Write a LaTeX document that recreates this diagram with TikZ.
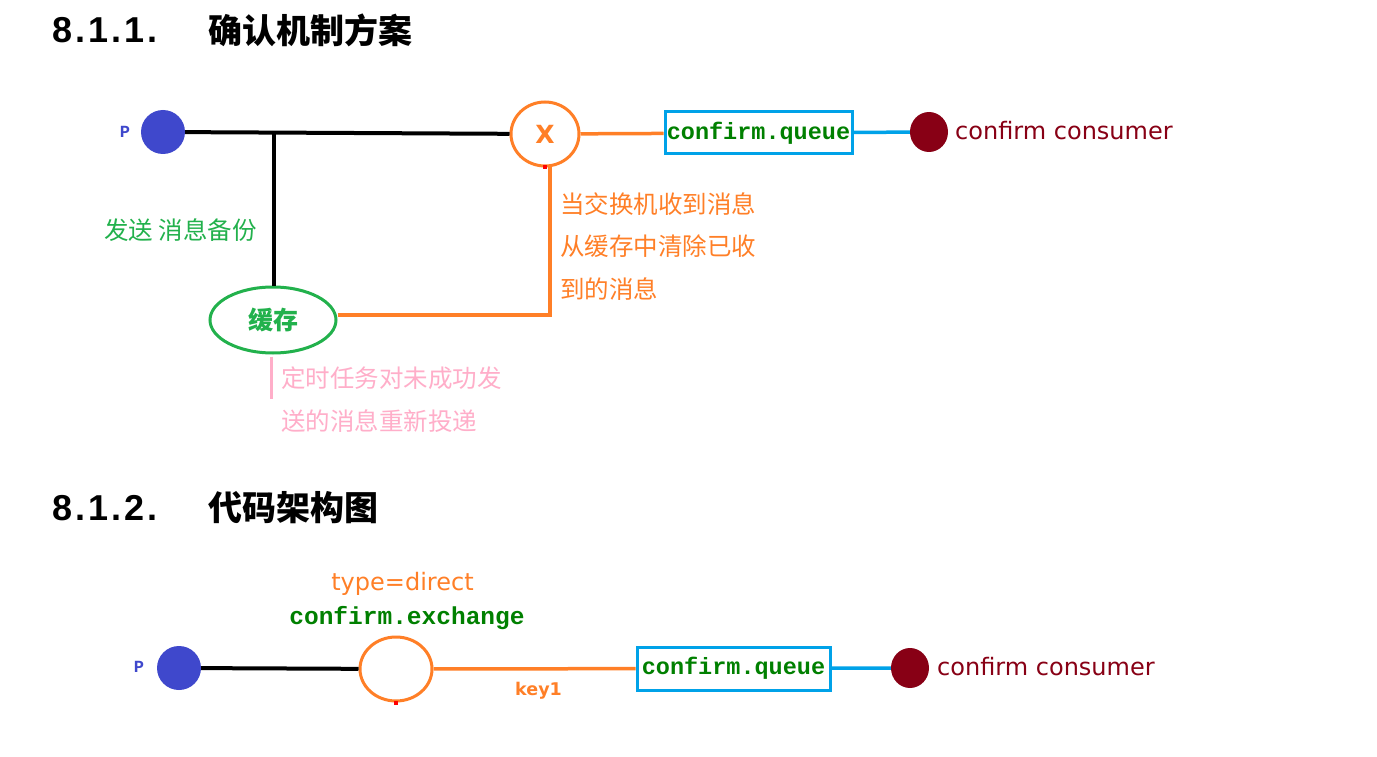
\documentclass[tikz,border=0pt]{standalone}
\usepackage{fontspec}
\setmainfont{DejaVu Sans}
\newfontfamily\cjk{Noto Sans CJK SC}
\newfontfamily\monof{Liberation Mono}
\newfontfamily\numf{Liberation Sans}
\usetikzlibrary{shapes.geometric}
\definecolor{pblue}{HTML}{3F48CC}
\definecolor{dred}{HTML}{880015}
\definecolor{orng}{HTML}{FF7F27}
\definecolor{lgreen}{HTML}{22B14C}
\definecolor{qgreen}{HTML}{008000}
\definecolor{cyanb}{HTML}{00A2E8}
\definecolor{pinkc}{HTML}{FFAEC9}
\frenchspacing
\newcommand\hdc[1]{\makebox[18pt][c]{#1}}
\begin{document}
\begin{tikzpicture}[x=1pt,y=-1pt,
  headnum/.style={anchor=west, inner sep=0, font=\numf\bfseries\fontsize{36}{38}\selectfont},
  heading/.style={anchor=west, inner sep=0, font=\cjk\bfseries\fontsize{34}{36}\selectfont},
  plabel/.style={inner sep=0, text=pblue, font=\monof\bfseries\fontsize{17}{18}\selectfont},
  pnode/.style={circle, fill=pblue, minimum size=44pt, inner sep=0},
  cnode/.style={ellipse, fill=dred, minimum width=38pt, minimum height=40pt, inner sep=0},
  ctext/.style={anchor=west, inner sep=0, text=dred, font=\fontsize{24}{28}\selectfont},
  exch/.style={ellipse, draw=orng, line width=3pt, inner sep=0, minimum height=64pt},
  qbox/.style={draw=cyanb, line width=3pt, inner sep=0, minimum height=42pt, text=qgreen,
     font=\monof\bfseries\fontsize{23.5}{26}\selectfont},
  blk/.style={line width=4pt, black},
  orl/.style={line width=3.5pt, orng},
  cyl/.style={line width=3.5pt, cyanb},
  rdot/.style={fill=red, minimum size=4pt, inner sep=0},
  cjkt/.style={inner sep=0, font=\cjk\fontsize{24.5}{42.5}\selectfont}
]
\useasboundingbox[fill=white] (0,0) rectangle (1377,757);

% ---------- 8.1.1 ----------
\node[headnum] (h1n) at (53,30) {\hdc{8}\hdc{.}\hdc{1}\hdc{.}\hdc{1}\hdc{.}};
\node[heading] (h1t) at (208,30) {确认机制方案};

\node[plabel] (pl1) at (125,132) {P};
\node[pnode] (p1) at (163,132) {};
\node[exch, minimum width=68pt, text=orng, font=\bfseries\fontsize{25}{26}\selectfont] (x1) at (545,134) {X};
\node[qbox, minimum width=187pt] (q1) at (758.5,133) {confirm.queue};
\node[cnode] (c1) at (929,132) {};
\node[ctext] (ct1) at (955,131) {confirm consumer};

\node[ellipse, draw=lgreen, line width=3pt, minimum width=126pt, minimum height=66pt, inner sep=0,
      text=lgreen, font=\cjk\bfseries\fontsize{25}{26}\selectfont] (cache) at (273,320) {缓存};

\coordinate (j1) at (274,133);
\coordinate (corner) at (550,315);

\draw[blk] (p1) -- (x1);
\draw[blk] (j1) -- (j1 |- cache.north);
\draw[orl] (x1) -- (q1);
\draw[cyl] (q1) -- (c1);
\draw[orl] ([yshift=5pt]cache.east) -- (corner) -- (corner |- x1.south);
\node[rdot] (d1) at (x1.south) {};
\draw[line width=3pt, pinkc] ([shift={(-2,2)}]cache.south) -- ++(0,42);

\node[cjkt, anchor=west, text=lgreen] (send) at (104,230) {发送 消息备份};
\node[cjkt, anchor=west, align=left, text=orng] (note1) at (560,246.5)
  {当交换机收到消息\\从缓存中清除已收\\到的消息};
\node[cjkt, anchor=west, align=left, text=pinkc] (note2) at (281,399.5)
  {定时任务对未成功发\\送的消息重新投递};

% ---------- 8.1.2 ----------
\node[headnum] (h2n) at (53,508) {\hdc{8}\hdc{.}\hdc{1}\hdc{.}\hdc{2}\hdc{.}};
\node[heading] (h2t) at (208,508) {代码架构图};

\node[plabel] (pl2) at (139,667) {P};
\node[pnode] (p2) at (179,668) {};
\node[exch, minimum width=72pt] (x2) at (396,669) {};
\node[qbox, minimum width=193pt, minimum height=43pt] (q2) at (733.5,668.5) {confirm.queue};
\node[cnode] (c2) at (910,668) {};
\node[ctext] (ct2) at (937,667) {confirm consumer};

\node[inner sep=0, text=orng, font=\fontsize{24}{28}\selectfont] (typ) at (402.5,584) {type=direct};
\node[inner sep=0, text=qgreen, font=\monof\bfseries\fontsize{24.5}{28}\selectfont] (exn) at (407,618) {confirm.exchange};

\draw[blk] (p2) -- (x2);
\draw[orl] (x2) -- node[pos=0.52, below=12pt, inner sep=0, text=orng, font=\bfseries\fontsize{17.5}{20}\selectfont] (k1) {key1} (q2);
\draw[cyl] (q2) -- (c2);
\node[rdot] (d2) at (x2.south) {};
\end{tikzpicture}
\end{document}
